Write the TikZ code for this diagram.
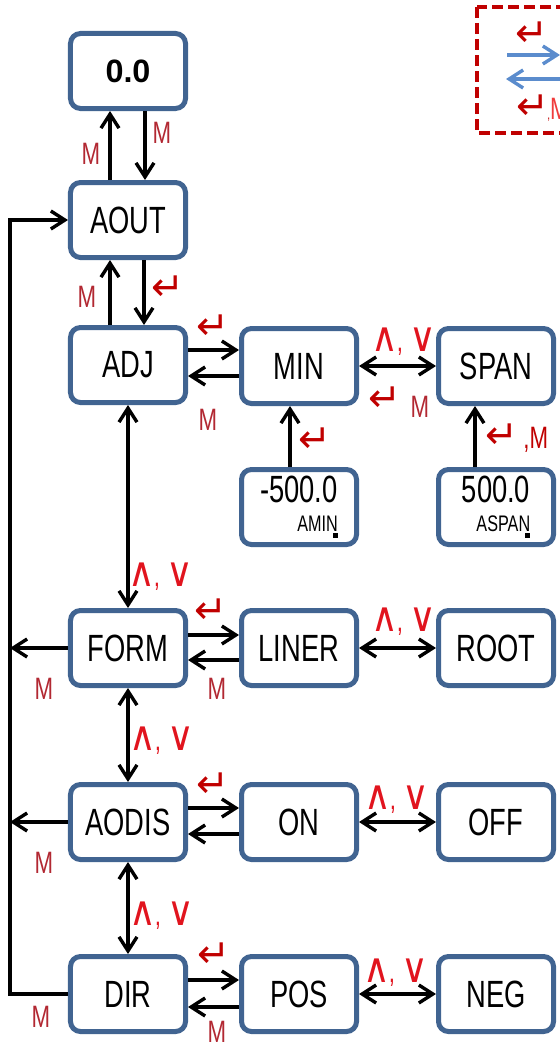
\documentclass[tikz,border=0pt]{standalone}
\usepackage{fontspec}
\setmainfont{Liberation Sans}[FakeStretch=0.72]
\newfontfamily\numfont{Liberation Sans}
\newfontfamily\symfont{DejaVu Sans}[FakeStretch=0.9]
\newfontfamily\entfont{DejaVu Sans}
\usetikzlibrary{arrows.meta,calc}
\definecolor{boxblue}{RGB}{65,100,145}
\definecolor{mred}{RGB}{178,40,50}
\definecolor{kred}{RGB}{225,20,30}
\definecolor{ered}{RGB}{192,0,0}
\definecolor{pred}{RGB}{240,60,60}
\definecolor{lblue}{RGB}{91,140,205}
\newcommand{\ent}{{\entfont\fontsize{28}{30}\selectfont ↵}}
\newcommand{\updown}{{\symfont\fontsize{29}{31}\selectfont ∧\kern-0.5mm}, {\symfont\fontsize{29}{31}\selectfont ∨}}
\begin{document}
\begin{tikzpicture}[x=0.25mm, y=-0.25mm,
        box/.style={draw=boxblue, line width=1.25mm, rounded corners=2.5mm, fill=white, minimum width=28.75mm, minimum height=18.75mm, inner sep=0pt, font=\fontsize{27}{29}\selectfont},
        arr/.style={line width=0.85mm, -{Straight Barb[length=3.5mm,width=4.5mm]}},
        darr/.style={line width=0.85mm, {Straight Barb[length=3.5mm,width=4.5mm]}-{Straight Barb[length=3.5mm,width=4.5mm]}},
        mlbl/.style={text=mred, font=\fontsize{22}{24}\selectfont, inner sep=0pt},
        klbl/.style={text=kred, font=\fontsize{22}{24}\selectfont, inner sep=0pt},
        elbl/.style={text=ered, inner sep=0pt}
    ]
    \useasboundingbox (0,0) rectangle (560,1048);
    \clip (0,0) rectangle (560,1048);
    \node[box, font=\numfont\bfseries\fontsize{23}{25}\selectfont] (zero) at (128,71) {0.0};
    \node[box] (aout) at (128,220) {AOUT};
    \node[box] (adj) at (128,365) {ADJ};
    \node[box] (min) at (299,366) {MIN};
    \node[box] (span) at (496,366) {SPAN};
    \node[box, align=right] (amin) at (299,507) {-500.0\\[-3mm]{\fontsize{16}{17}\selectfont AMIN\llap{\rule[-1.5mm]{1.25mm}{1.25mm}}}};
    \node[box, align=right] (aspan) at (496,507) {500.0\\[-3mm]{\fontsize{16}{17}\selectfont ASPAN\llap{\rule[-1.5mm]{1.25mm}{1.25mm}}}};
    \node[box] (form) at (128,648) {FORM};
    \node[box] (liner) at (299,648) {LINER};
    \node[box] (root) at (496,648) {ROOT};
    \node[box] (aodis) at (128,822) {AODIS};
    \node[box] (on) at (299,822) {ON};
    \node[box] (off) at (496,822) {OFF};
    \node[box] (dir) at (128,994) {DIR};
    \node[box] (pos) at (299,994) {POS};
    \node[box] (neg) at (496,994) {NEG};

    \coordinate (bus) at (10,0);
    \draw[arr] ($(aout.north)+(-18,0)$) -- ($(zero.south)+(-18,0)$);
    \draw[arr] ($(zero.south)+(17,0)$) -- ($(aout.north)+(17,0)$);
    \draw[arr] ($(aout.south)+(16,0)$) -- ($(adj.north)+(16,0)$);
    \draw[arr] ($(adj.north)+(-18,0)$) -- ($(aout.south)+(-18,0)$);
    \draw[arr] ($(adj.east)+(0,-15)$) -- ($(min.west)+(0,-16)$);
    \draw[arr] ($(min.west)+(0,10)$) -- ($(adj.east)+(0,11)$);
    \draw[darr] (min) -- (span);
    \draw[arr] ($(amin.north)+(-9,0)$) -- ($(min.south)+(-9,0)$);
    \draw[arr] ($(aspan.north)+(-21,0)$) -- ($(span.south)+(-21,0)$);
    \draw[darr] (adj) -- (form);
    \draw[arr] ($(form.east)+(0,-13)$) -- ($(liner.west)+(0,-13)$);
    \draw[arr] ($(liner.west)+(0,12)$) -- ($(form.east)+(0,12)$);
    \draw[darr] (liner) -- (root);
    \draw[darr] (form) -- (aodis);
    \draw[arr] ($(aodis.east)+(0,-14)$) -- ($(on.west)+(0,-14)$);
    \draw[arr] ($(on.west)+(0,12)$) -- ($(aodis.east)+(0,12)$);
    \draw[darr] (on) -- (off);
    \draw[darr] (aodis) -- (dir);
    \draw[arr] ($(dir.east)+(0,-14)$) -- ($(pos.west)+(0,-14)$);
    \draw[arr] ($(pos.west)+(0,13)$) -- ($(dir.east)+(0,13)$);
    \draw[darr] (pos) -- (neg);
    \draw[arr] (form.west) -- (form.west -| bus);
    \draw[arr] (aodis.west) -- (aodis.west -| bus);
    \draw[arr] (dir.west) -- (dir.west -| bus) |- (aout.west);

    \node[mlbl] at (91,154) {M};
    \node[mlbl] at (162,133) {M};
    \node[mlbl] at (87,297) {M};
    \node[elbl] at (168,288) {\ent};
    \node[elbl] at (213,327) {\ent};
    \node[mlbl] at (208,420) {M};
    \node[klbl] at (404,342) {\updown};
    \node[elbl] at (385,399) {\ent};
    \node[mlbl] at (420,407) {M};
    \node[elbl] at (315,440) {\ent};
    \node[mlbl, text=ered, anchor=west] at (485,438) {\ent\,,M};
    \node[klbl] at (161,577) {\updown};
    \node[elbl] at (211,611) {\ent};
    \node[mlbl] at (44,689) {M};
    \node[mlbl] at (217,689) {M};
    \node[klbl] at (404,622) {\updown};
    \node[klbl] at (162,741) {\updown};
    \node[elbl] at (213,785) {\ent};
    \node[mlbl] at (44,863) {M};
    \node[klbl] at (397,800) {\updown};
    \node[klbl] at (162,916) {\updown};
    \node[elbl] at (214,955) {\ent};
    \node[mlbl] at (41,1017) {M};
    \node[mlbl] at (217,1032) {M};
    \node[klbl] at (396,973) {\updown};

    \draw[ered, line width=1mm, dash pattern=on 2.75mm off 1.25mm] (477,7) rectangle (620,133);
    \coordinate (lgr1) at (507,55);
    \coordinate (lgr2) at (560,55);
    \coordinate (lgl1) at (570,79);
    \coordinate (lgl2) at (506,79);
    \draw[arr, lblue] (lgr1) -- (lgr2);
    \draw[arr, lblue] (lgl1) -- (lgl2);
    \node[elbl] (lgfwd) at (532,34) {\ent};
    \node[elbl, anchor=west] (lgback) at (516,108) {\ent\kern-0.5mm,\textcolor{pred}{\fontsize{22}{24}\selectfont M}};
\end{tikzpicture}
\end{document}
